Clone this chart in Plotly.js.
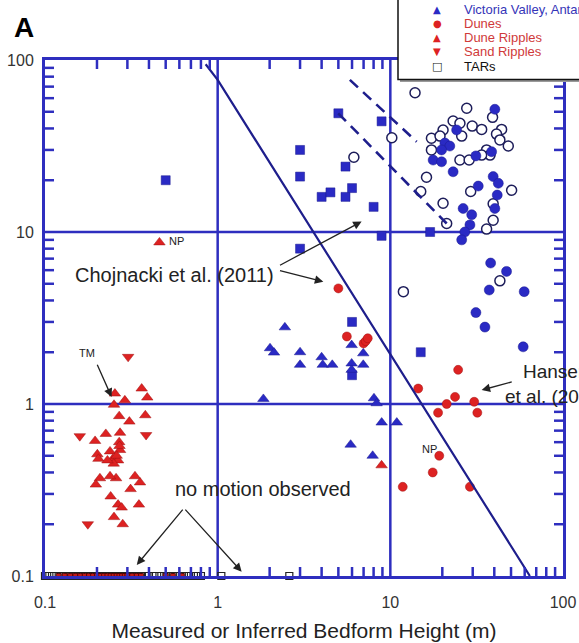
<!DOCTYPE html>
<html>
<head>
<meta charset="utf-8">
<script src="https://cdn.plot.ly/plotly-3.0.1.min.js"></script>
<style>html,body{margin:0;padding:0;background:#fff}#chart{width:579px;height:643px}</style>
</head>
<body>
<div id="chart"></div>
<script>
// ---- data (bedform height m, migration rate) ----
const openCircleX = [13.9, 27.7, 39.1, 23.1, 25.3, 29.8, 33.8, 44.1, 20.2, 17.3, 19.4, 25.9, 41.2, 10.2, 43.1, 48.2, 17.3, 25.3, 28.6, 36.1, 37.8, 33.8, 6.15, 16.2, 29.2, 50.4, 15.0, 20.2, 39.4, 39.4, 21.2, 36.1, 11.9, 43.1];
const openCircleY = [64.5, 52.4, 46.4, 44.2, 42.9, 41.3, 39.5, 39.5, 39.2, 35.1, 36.1, 36.1, 37.1, 35.3, 34.3, 31.6, 30.0, 26.2, 26.2, 30.0, 28.0, 28.0, 27.2, 20.8, 17.2, 17.5, 17.2, 14.7, 14.6, 11.7, 11.2, 10.4, 4.5, 5.2];
const filledCircleX = [40.3, 24.2, 20.7, 22.1, 19.8, 17.7, 19.8, 23.1, 31.3, 38.6, 39.4, 42.2, 41.6, 40.3, 32.3, 26.4, 29.6, 28.9, 27.0, 25.9, 38.1, 47.1, 37.4, 59.6, 31.3, 35.3, 58.8];
const filledCircleY = [51.7, 39.2, 32.9, 31.6, 30.0, 26.2, 25.6, 22.4, 27.7, 29.3, 21.0, 19.2, 16.4, 13.7, 18.5, 13.7, 12.6, 11.0, 10.0, 9.0, 6.6, 5.9, 4.6, 4.5, 3.4, 2.8, 2.15];
const squareX = [0.5, 5.0, 8.9, 3.0, 3.0, 5.5, 4.0, 4.5, 5.5, 6.0, 8.0, 8.9, 3.0, 6.0, 15, 6.0, 17];
const squareY = [20, 49, 44, 30, 21, 24, 16, 17, 16, 18, 14, 9.5, 8.0, 3.0, 2.0, 1.47, 10];
const victoriaX = [1.84, 2.45, 2.01, 2.12, 3.0, 3.0, 4.0, 4.06, 4.61, 5.97, 5.97, 5.97, 6.97, 6.97, 8.04, 8.33, 8.91, 10.9, 5.89, 7.9];
const victoriaY = [1.07, 2.79, 2.11, 1.99, 2.0, 1.69, 1.87, 1.69, 1.69, 2.20, 1.72, 1.58, 1.97, 1.69, 1.08, 1.01, 0.78, 0.78, 0.58, 0.50];
const dunesX = [5.0, 5.6, 7.0, 7.2, 7.4, 14.5, 24.7, 23.7, 21.2, 18.9, 30.6, 31.9, 19.2, 17.6, 11.8, 28.9];
const dunesY = [4.7, 2.47, 2.25, 2.32, 2.41, 1.23, 1.58, 1.10, 1.0, 0.89, 1.03, 0.89, 0.50, 0.40, 0.33, 0.33];
const duneRippleX = [0.46, 8.9, 0.254, 0.290, 0.251, 0.269, 0.308, 0.225, 0.272, 0.269, 0.195, 0.201, 0.204, 0.238, 0.247, 0.265, 0.272, 0.258, 0.238, 0.208, 0.197, 0.332, 0.313, 0.240, 0.265, 0.278, 0.251, 0.282, 0.363, 0.391, 0.381, 0.355, 0.350, 0.26, 0.25, 0.27, 0.23];
const duneRippleY = [8.7, 0.44, 1.15, 1.05, 0.99, 0.85, 0.79, 0.67, 0.68, 0.60, 0.61, 0.51, 0.48, 0.53, 0.48, 0.47, 0.54, 0.37, 0.38, 0.37, 0.34, 0.38, 0.32, 0.29, 0.26, 0.25, 0.22, 0.20, 1.23, 1.09, 0.86, 0.35, 0.26, 0.50, 0.45, 0.57, 0.47];
const sandRippleX = [0.303, 0.159, 0.385, 0.177];
const sandRippleY = [1.88, 0.65, 0.66, 0.20];
const tarX = [0.100, 0.106, 0.113, 0.120, 0.128, 0.137, 0.146, 0.156, 0.166, 0.177, 0.19, 0.2, 0.215, 0.23, 0.245, 0.26, 0.28, 0.3, 0.32, 0.34, 0.36, 0.38, 0.4, 0.43, 0.46, 0.49, 0.52, 0.55, 0.58, 0.62, 0.66, 0.7, 0.75, 0.8, 1.05, 2.6];
const tarY = tarX.map(() => 0.1);
const noMotionRedX = [0.12, 0.13, 0.14, 0.15, 0.16, 0.17, 0.18, 0.19, 0.2, 0.21, 0.22, 0.23, 0.24, 0.25, 0.26, 0.27, 0.28, 0.29, 0.3, 0.32, 0.34, 0.36, 0.5, 0.55, 0.62];
const noMotionRedY = noMotionRedX.map(() => 0.1);
const trendX = [0.852, 1.0, 64.3];
const trendY = [94.5, 76.6, 0.1];
const dashUpperX = [5.83, 14.2];
const dashUpperY = [76.6, 33.5];
const dashLowerX = [4.99, 21.2];
const dashLowerY = [49, 11.2];
const tickVals = [0.1, 1, 10, 100];
const tickText = ['0.1', '1', '10', '100'];
const minorTickVals = [0.2, 0.3, 0.4, 0.5, 0.6, 0.7, 0.8, 0.9, 2, 3, 4, 5, 6, 7, 8, 9, 20, 30, 40, 50, 60, 70, 80, 90];
const gridVals = [1, 10];
const legendLabels = ['Victoria Valley, Antarctica', 'Dunes', 'Dune Ripples', 'Sand Ripples', 'TARs'];
const legendSymbols = ['▲', '●', '▲', '▼', '□'];

// ---- styles ----
const BLUE = '#2a2ac4', FRAME = '#2e2ebf', NAVY = '#1e1e8c', RED = '#dd2222';
const FONT = 'Liberation Sans, Arial, sans-serif';
const L = Math.log10;

const traces = [
  {x: openCircleX, y: openCircleY, mode: 'markers', marker: {symbol: 'circle', size: 10, color: '#fff', line: {color: '#1d1d5a', width: 1.5}}},
  {x: filledCircleX, y: filledCircleY, mode: 'markers', marker: {symbol: 'circle', size: 10, color: BLUE, line: {color: '#1a1a90', width: 0.5}}},
  {x: squareX, y: squareY, mode: 'markers', marker: {symbol: 'square', size: 9, color: BLUE, line: {color: '#1a1a90', width: 0.5}}},
  {x: victoriaX, y: victoriaY, mode: 'markers', marker: {symbol: 'triangle-up', size: 10, color: BLUE, line: {color: '#1a1a90', width: 0.5}}},
  {x: dunesX, y: dunesY, mode: 'markers', marker: {symbol: 'circle', size: 9, color: RED, line: {color: '#a01010', width: 0.5}}},
  {x: duneRippleX, y: duneRippleY, mode: 'markers', marker: {symbol: 'triangle-up', size: 10, color: RED, line: {color: '#a01010', width: 0.5}}},
  {x: sandRippleX, y: sandRippleY, mode: 'markers', marker: {symbol: 'triangle-down', size: 10, color: RED, line: {color: '#a01010', width: 0.5}}},
  {x: tarX, y: tarY, mode: 'markers', cliponaxis: false, marker: {symbol: 'square-open', size: 7, color: '#222', line: {width: 1.2}}},
  {x: noMotionRedX, y: noMotionRedY, mode: 'markers', cliponaxis: false, marker: {symbol: 'square', size: 5, color: '#c01818', line: {color: '#400', width: 0.8}}},
  {x: trendX, y: trendY, mode: 'lines', line: {color: NAVY, width: 2.2}},
  {x: dashUpperX, y: dashUpperY, mode: 'lines', line: {color: NAVY, width: 2.6, dash: '11px,7px'}},
  {x: dashLowerX, y: dashLowerY, mode: 'lines', line: {color: NAVY, width: 2.6, dash: '11px,7px'}}
];

const axisCommon = {
  type: 'log', tickmode: 'array', tickvals: tickVals, ticktext: tickText, showgrid: false,
  showline: true, linecolor: FRAME, linewidth: 3, mirror: true,
  ticks: '', zeroline: false,
  tickfont: {family: FONT, size: 16, color: '#333'}
};

// legend geometry (paper units)
const px = v => (v - 45) / 518, py = v => (576 - v) / 516;
const legendRows = [9.7, 23.3, 37.7, 51.7, 66];
const legendColors = [BLUE, RED, RED, RED, '#111'];
const legendTextColors = ['#3535b8', '#d03a3a', '#d03a3a', '#d03a3a', '#111'];
const legendAnns = [];
legendLabels.forEach((lab, i) => {
  legendAnns.push({xref: 'paper', yref: 'paper', x: px(437), y: py(legendRows[i]), text: legendSymbols[i], showarrow: false,
    font: {family: 'DejaVu Sans', size: i === 4 ? 11 : 10, color: legendColors[i]}, xanchor: 'center', yanchor: 'middle'});
  legendAnns.push({xref: 'paper', yref: 'paper', x: px(462), y: py(legendRows[i]), text: lab, showarrow: false,
    font: {family: FONT, size: 13, color: legendTextColors[i]}, xanchor: 'left', yanchor: 'middle'});
});

const arrow = (tx, ty, hx, hy) => ({x: L(hx), y: L(hy), ax: L(tx), ay: L(ty), xref: 'x', yref: 'y', axref: 'x', ayref: 'y',
  text: '', showarrow: true, arrowhead: 2, arrowsize: 1.3, arrowwidth: 1.3, arrowcolor: '#222'});

const annotations = [
  {xref: 'paper', yref: 'paper', x: px(24), y: py(28), text: '<b>A</b>', showarrow: false, xanchor: 'center', yanchor: 'middle', font: {family: FONT, size: 28, color: '#000'}},
  {x: L(2.19), y: L(5.6), xref: 'x', yref: 'y', text: 'Chojnacki et al. (2011)', showarrow: false, xanchor: 'right', font: {family: FONT, size: 20, color: '#222'}},
  arrow(2.25, 6.34, 6.82, 11.5),
  arrow(2.25, 6.0, 4.09, 5.14),
  {x: L(1.83), y: L(0.32), xref: 'x', yref: 'y', text: 'no motion observed', showarrow: false, font: {family: FONT, size: 20, color: '#222'}},
  arrow(0.638, 0.248, 0.34, 0.116),
  arrow(0.638, 0.248, 1.377, 0.106),
  {x: L(57), y: L(1.54), xref: 'x', yref: 'y', text: 'Hansen', showarrow: false, xanchor: 'left', font: {family: FONT, size: 19, color: '#222'}},
  {x: L(44.9), y: L(1.1), xref: 'x', yref: 'y', text: 'et al. (2011)', showarrow: false, xanchor: 'left', font: {family: FONT, size: 19, color: '#222'}},
  arrow(51.5, 1.35, 33.8, 1.205),
  {x: L(0.175), y: L(1.98), xref: 'x', yref: 'y', text: 'TM', showarrow: false, font: {family: FONT, size: 11, color: '#222'}},
  arrow(0.199, 1.725, 0.243, 1.10),
  {x: L(0.509), y: L(8.87), xref: 'x', yref: 'y', text: 'NP', showarrow: false, xanchor: 'left', font: {family: FONT, size: 11, color: '#222'}},
  {x: L(16.9), y: L(0.547), xref: 'x', yref: 'y', text: 'NP', showarrow: false, font: {family: FONT, size: 11, color: '#222'}}
].concat(legendAnns);

// grid lines at decades and inward minor ticks (axis refs take data values, paper refs take fractions)
const frameShapes = [];
gridVals.forEach(v => {
  frameShapes.push({type: 'line', xref: 'x', yref: 'paper', x0: v, x1: v, y0: 0, y1: 1, line: {color: FRAME, width: 2.5}, layer: 'below'});
  frameShapes.push({type: 'line', xref: 'paper', yref: 'y', x0: 0, x1: 1, y0: v, y1: v, line: {color: FRAME, width: 2.5}, layer: 'below'});
});
const tickFx = 9 / 518, tickFy = 9 / 516, tickLine = {color: FRAME, width: 2.5};
minorTickVals.forEach(v => {
  frameShapes.push({type: 'line', xref: 'x', yref: 'paper', x0: v, x1: v, y0: 0, y1: tickFy, line: tickLine});
  frameShapes.push({type: 'line', xref: 'x', yref: 'paper', x0: v, x1: v, y0: 1, y1: 1 - tickFy, line: tickLine});
  frameShapes.push({type: 'line', xref: 'paper', yref: 'y', x0: 0, x1: tickFx, y0: v, y1: v, line: tickLine});
  frameShapes.push({type: 'line', xref: 'paper', yref: 'y', x0: 1, x1: 1 - tickFx, y0: v, y1: v, line: tickLine});
});

const layout = {
  width: 579, height: 643,
  margin: {l: 45, r: 16, t: 60, b: 67, autoexpand: false},
  paper_bgcolor: '#fff', plot_bgcolor: '#fff',
  showlegend: false,
  font: {family: FONT},
  xaxis: Object.assign({}, axisCommon, {range: [-1, 2], ticklabelstandoff: 10,
    title: {text: 'Measured or Inferred Bedform Height (m)', font: {family: FONT, size: 21, color: '#222'}, standoff: 14}}),
  yaxis: Object.assign({}, axisCommon, {range: [-1, 2], ticklabelstandoff: 5}),
  shapes: frameShapes.concat([
    {type: 'rect', xref: 'paper', yref: 'paper', x0: px(400), x1: px(620), y0: py(82), y1: py(-20), line: {width: 0}, fillcolor: '#9a9a9a', layer: 'above'},
    {type: 'rect', xref: 'paper', yref: 'paper', x0: px(398), x1: px(620), y0: py(79.5), y1: py(-20), line: {color: '#111', width: 1.5}, fillcolor: '#fff', layer: 'above'}
  ]),
  annotations: annotations
};

Plotly.newPlot('chart', traces, layout, {displayModeBar: false, staticPlot: true});
</script>
</body>
</html>
